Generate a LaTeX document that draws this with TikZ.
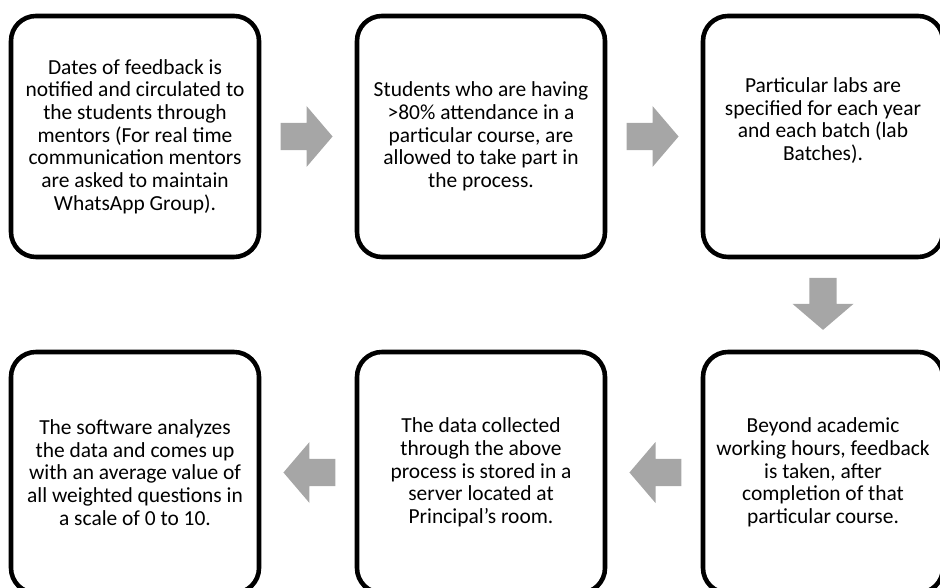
\documentclass[tikz,border=0pt]{standalone}
\usepackage{fontspec}
\setmainfont{Carlito}
\usepackage{tikz}
\usetikzlibrary{positioning,calc,shapes.arrows}
\definecolor{flowGray}{HTML}{A6A6A6}

\begin{document}
\begin{tikzpicture}[font=\fontsize{12.2pt}{12.9pt}\selectfont,
    stepbox/.style={draw=black,line width=2.6pt,rounded corners=0.5cm,
        minimum width=4.96cm,minimum height=4.82cm,align=center,
        inner sep=0pt,outer sep=0pt},
    blockarrow/.style={single arrow,draw=none,fill=flowGray,anchor=tail,
        minimum height=1.04cm,minimum width=1.22cm,
        single arrow head extend=0.24cm,single arrow tip angle=99,
        inner sep=0.185cm,outer sep=0pt}]
  \useasboundingbox (0,0) rectangle (18.8,-11.76);
  % top row
  \node[stepbox] (s1) at (2.70,-2.73) {%
    Dates of feedback is\\notified and circulated to\\the students through\\
    mentors (For real time\\communication mentors\\are asked to maintain\\
    WhatsApp Group).};
  \node[stepbox,right=1.96cm of s1] (s2) {%
    Students who are having\\>80\% attendance in a\\particular course, are\\
    allowed to take part in\\the process.};
  \node[stepbox,minimum width=4.8cm,right=1.96cm of s2] (s3) {%
    Particular labs are\\specified for each year\\and each batch (lab\\
    Batches).\\[7pt]\mbox{}};
  % bottom row
  \node[stepbox,minimum width=4.8cm,below=1.9cm of s3] (s4) {%
    Beyond academic\\working hours, feedback\\is taken, after\\
    completion of that\\particular course.};
  \node[stepbox,left=1.96cm of s4] (s5) {%
    The data collected\\through the above\\process is stored in a\\
    server located at\\Principal’s room.};
  \node[stepbox,left=1.96cm of s5] (s6) {%
    The software analyzes\\the data and comes up\\with an average value of\\
    all weighted questions in\\a scale of 0 to 10.};
  % arrows
  \node[blockarrow] (a12) at ($(s1.east)!0.22!(s2.west)$) {};
  \node[blockarrow] (a23) at ($(s2.east)!0.22!(s3.west)$) {};
  \node[blockarrow,shape border rotate=270] (a34) at ($(s3.south)!0.22!(s4.north)$) {};
  \node[blockarrow,shape border rotate=180] (a45) at ($(s4.west)!0.22!(s5.east)$) {};
  \node[blockarrow,shape border rotate=180] (a56) at ($(s5.west)!0.22!(s6.east)$) {};
\end{tikzpicture}
\end{document}
